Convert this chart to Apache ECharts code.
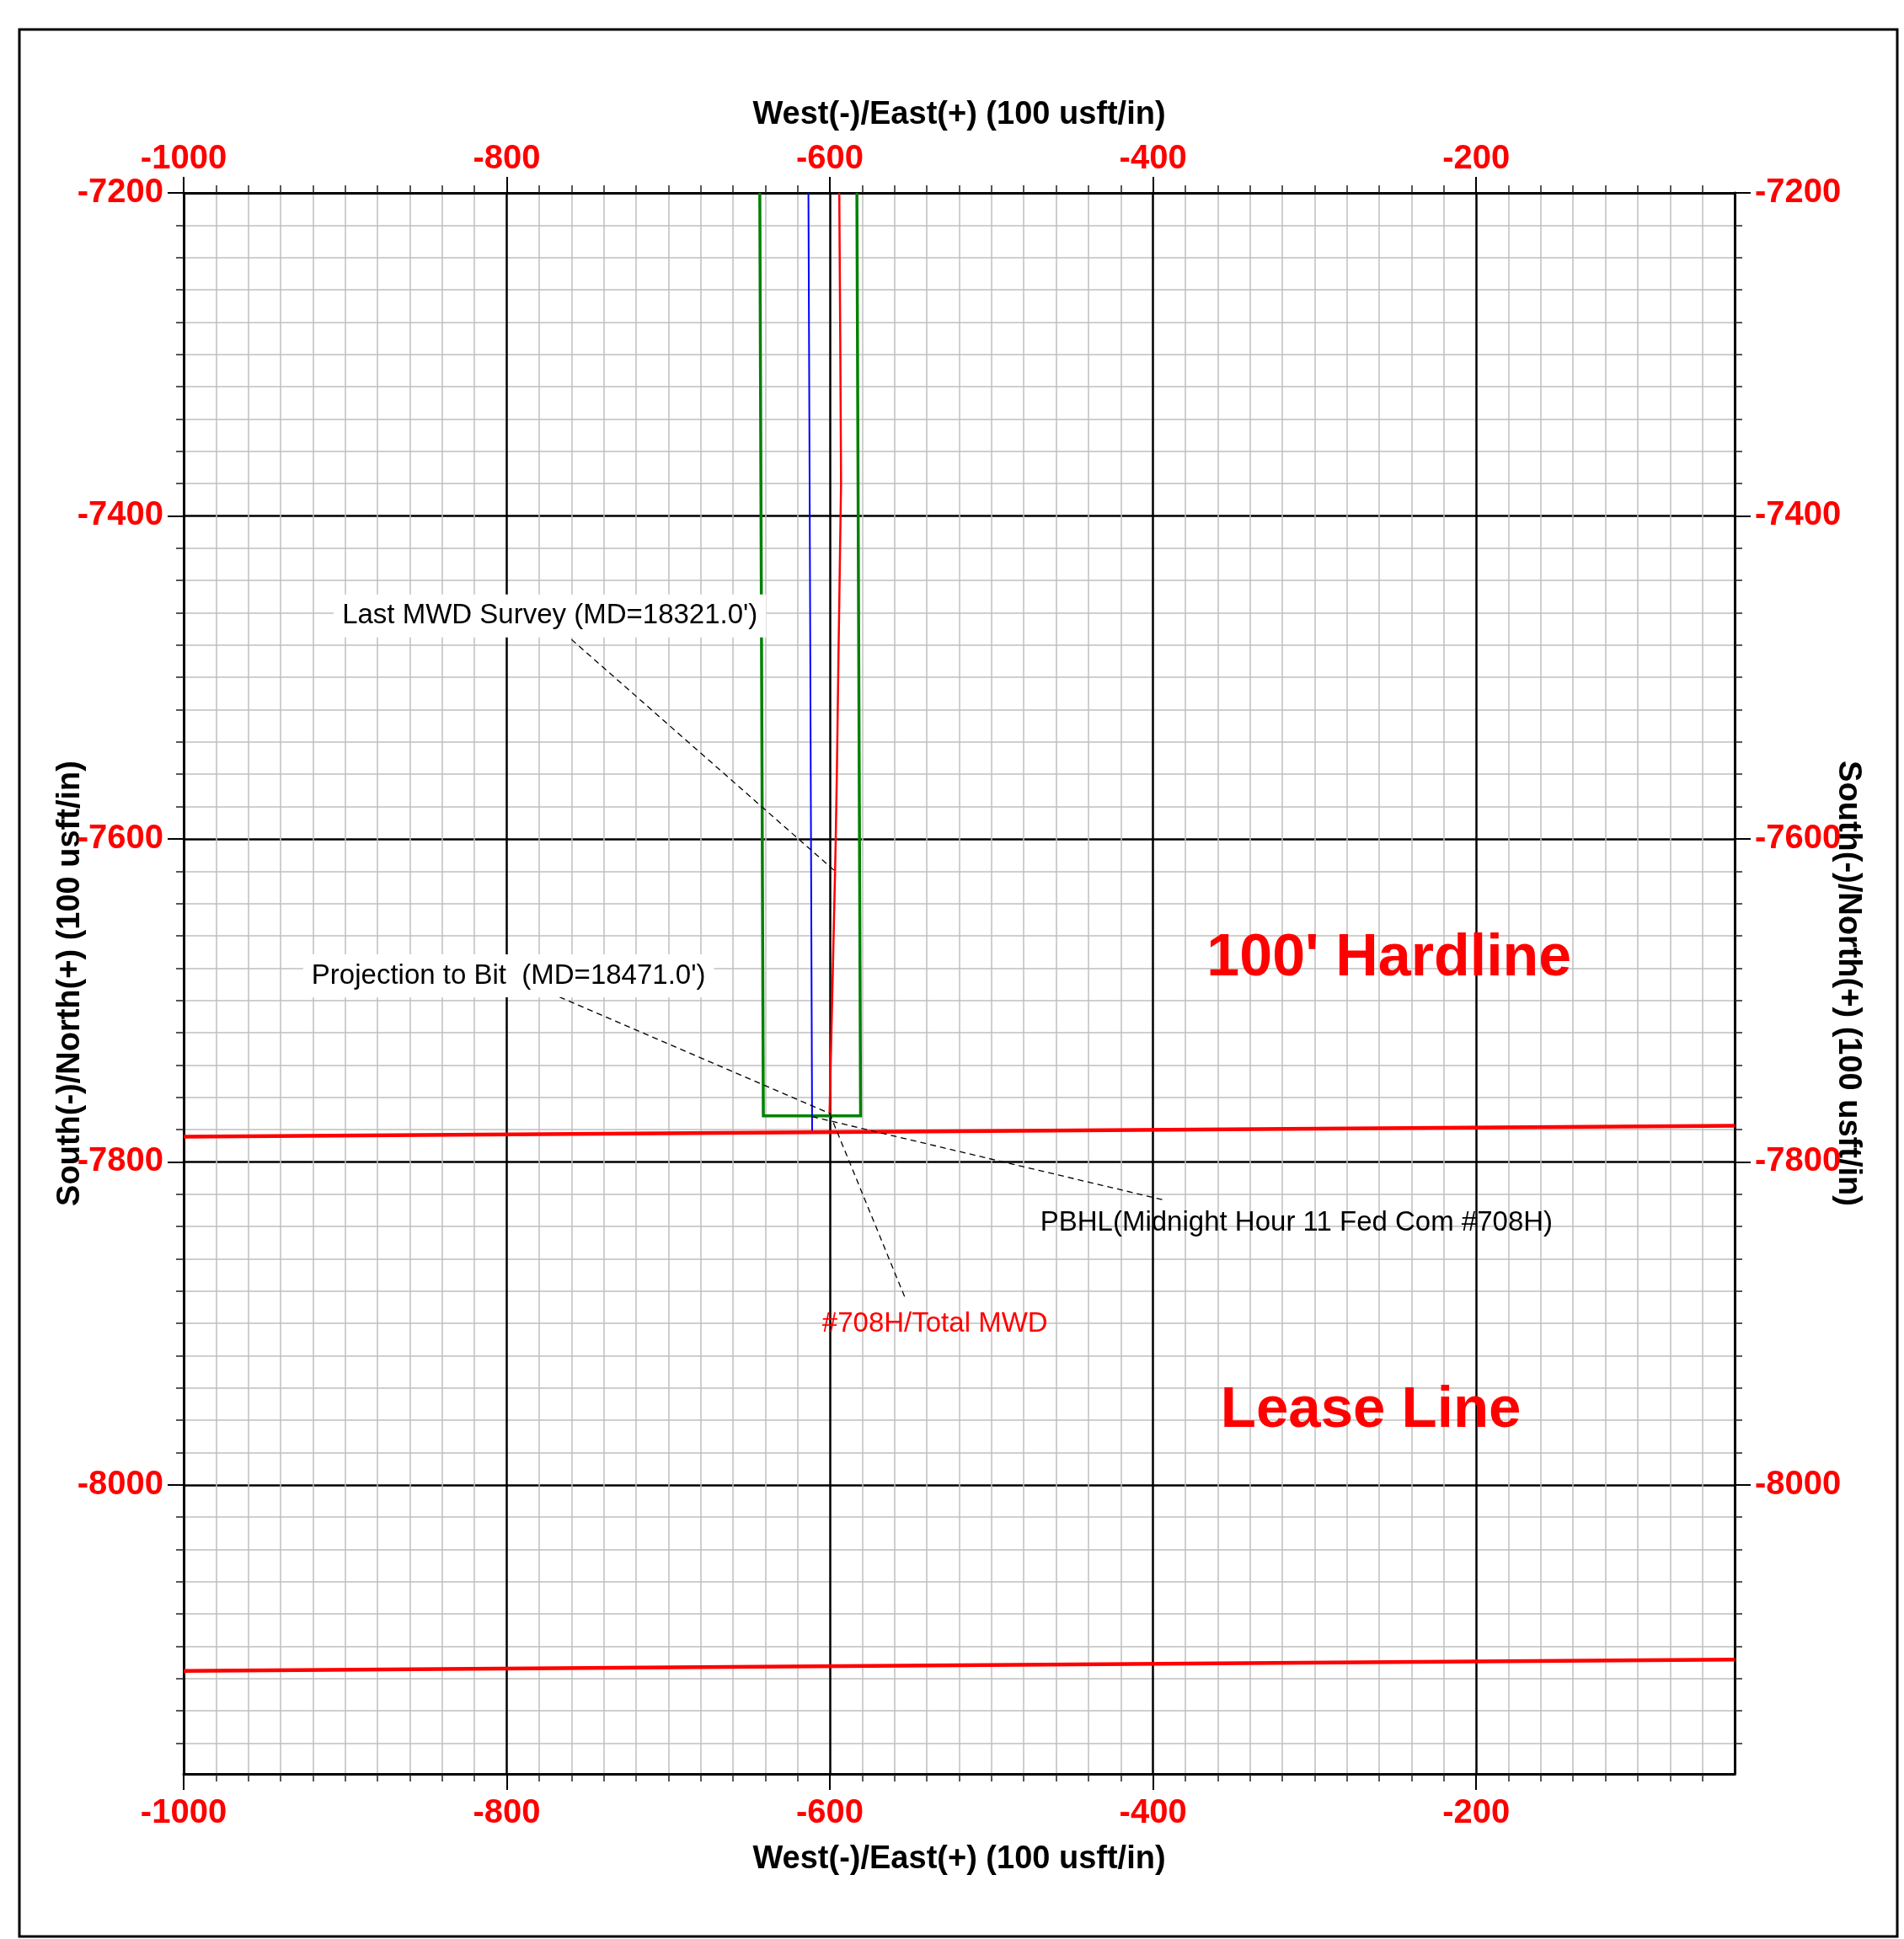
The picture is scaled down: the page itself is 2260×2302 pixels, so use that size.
<!DOCTYPE html>
<html>
<head>
<meta charset="utf-8">
<script src="https://cdn.jsdelivr.net/npm/echarts@6/dist/echarts.min.js"></script>
<style>
  html, body { margin: 0; padding: 0; background: #fff; }
  #chart { width: 2260px; height: 2302px; }
</style>
</head>
<body>
<div id="chart"></div>
<script>
// ---------------- data ----------------
const xRange = [-1000, -40];
const yRange = [-8179, -7200];
const xTickValues = [-1000, -800, -600, -400, -200];
const yTickValues = [-8000, -7800, -7600, -7400, -7200];
const xAxisTitle = 'West(-)/East(+) (100 usft/in)';
const yAxisTitle = 'South(-)/North(+) (100 usft/in)';

// planned wellbore (blue)
const planX = [-613.3, -612.5, -611.0];
const planY = [-7200, -7394, -7781];

// actual MWD survey path (red)
const mwdX = [-594.2, -593.6, -593.1, -594.6, -595.7, -596.4, -596.8];
const mwdY = [-7200, -7290, -7380, -7480, -7560, -7600, -7620];

// projection to bit (red)
const projX = [-596.8, -600.2];
const projY = [-7620, -7770];

// target / drilling window box (green)
const boxX = [-643.4, -641.2, -581.0, -583.3];
const boxY = [-7200, -7771.5, -7771.5, -7200];

// 100' hardline (red)
const hardX = [-1000, -40];
const hardY = [-7784.4, -7777.7];

// lease line (red)
const leaseX = [-1000, -40];
const leaseY = [-8115.2, -8108.2];

// dashed leader lines: start and end points
const leaderX0 = [-760.0, -767.4, -611.0, -600.2];
const leaderY0 = [-7476.5, -7697.9, -7772.0, -7770.0];
const leaderX1 = [-596.8, -600.2, -393.8, -553.0];
const leaderY1 = [-7620.0, -7770.0, -7823.5, -7885.4];

// annotation texts and their anchor points
const noteText = [
  "Last MWD Survey (MD=18321.0')",
  "Projection to Bit  (MD=18471.0')",
  'PBHL(Midnight Hour 11 Fed Com #708H)',
  '#708H/Total MWD',
  "100' Hardline",
  'Lease Line'
];
const noteX = [-773.3, -798.9, -311.2, -535.0, -253.9, -265.2];
const noteY = [-7461.9, -7684.8, -7838.1, -7900.3, -7674.6, -7954.3];

// ---------------- styles ----------------
const FONT = "'Liberation Sans', Arial, Helvetica, sans-serif";
const noteStyle = [
  { color: '#000', fontSize: 33, fontWeight: 'normal', backgroundColor: '#fff', padding: [9, 10] },
  { color: '#000', fontSize: 33, fontWeight: 'normal', backgroundColor: '#fff', padding: [9, 10] },
  { color: '#000', fontSize: 33, fontWeight: 'normal' },
  { color: '#ff0000', fontSize: 33, fontWeight: 'normal' },
  { color: '#ff0000', fontSize: 70, fontWeight: 'bold' },
  { color: '#ff0000', fontSize: 69, fontWeight: 'bold' }
];

function pts(xs, ys) { return xs.map((x, i) => [x, ys[i]]); }

function lineSeries(xs, ys, color, width, z, type) {
  return {
    type: 'line',
    data: pts(xs, ys),
    symbol: 'none',
    showSymbol: false,
    silent: true,
    animation: false,
    z: z,
    lineStyle: { color: color, width: width, type: type || 'solid', cap: 'butt', join: 'miter' }
  };
}

function makeAxis(kind, position, main) {
  const isX = kind === 'x';
  const range = isX ? xRange : yRange;
  const ticks = isX ? xTickValues : yTickValues;
  let gap;
  if (position === 'top') gap = 73;
  else if (position === 'bottom') gap = 83;
  else gap = 115;
  const ax = {
    type: 'value',
    position: position,
    min: range[0],
    max: range[1],
    name: isX ? xAxisTitle : yAxisTitle,
    nameLocation: 'middle',
    nameGap: gap,
    nameMoveOverlap: false,
    nameTextStyle: { fontFamily: FONT, fontSize: 38, fontWeight: 'bold', color: '#000' },
    axisLine: { show: true, onZero: false, lineStyle: { color: '#000', width: 3 } },
    axisTick: { show: true, length: 19, customValues: ticks, lineStyle: { color: '#000', width: 2 } },
    minorTick: { show: true, splitNumber: 10, length: 9, lineStyle: { color: '#222', width: 1.5 } },
    axisLabel: {
      show: true,
      margin: position === 'top' ? 20 : (position === 'bottom' ? 27 : 24),
      customValues: ticks,
      formatter: v => String(v),
      fontFamily: FONT, fontSize: 40, fontWeight: 'bold', color: '#ff0000'
    },
    splitLine: { show: main, lineStyle: { color: '#000', width: 2.5 } },
    minorSplitLine: { show: main, lineStyle: { color: '#c0c0c0', width: 1.5 } }
  };
  if (isX) ax.interval = 200; else ax.splitNumber = 5;
  if (!isX && position === 'right') ax.nameRotate = -90;
  return ax;
}

const series = [
  lineSeries(boxX, boxY, '#008000', 3.5, 3),
  lineSeries(planX, planY, '#0000ff', 2, 4),
  lineSeries(mwdX, mwdY, '#ff0000', 2.5, 5),
  lineSeries(projX, projY, '#ff0000', 2.5, 5),
  lineSeries(hardX, hardY, '#ff0000', 4.5, 6),
  lineSeries(leaseX, leaseY, '#ff0000', 4.5, 6)
];
leaderX0.forEach((x0, i) => {
  series.push(lineSeries([x0, leaderX1[i]], [leaderY0[i], leaderY1[i]], '#000', 1.3, 7, [7, 5]));
});
series.push({
  type: 'scatter',
  silent: true,
  animation: false,
  symbolSize: 0,
  z: 10,
  itemStyle: { color: 'transparent', opacity: 1 },
  data: noteText.map((t, i) => ({
    value: [noteX[i], noteY[i]],
    itemStyle: { opacity: 1 },
    label: Object.assign({
      show: true,
      position: 'inside',
      align: 'center',
      verticalAlign: 'middle',
      fontFamily: FONT,
      opacity: 1,
      textBorderWidth: 0,
      textBorderColor: 'transparent',
      textShadowBlur: 0,
      formatter: () => t
    }, noteStyle[i])
  }))
});

const chart = echarts.init(document.getElementById('chart'), null, { renderer: 'canvas', width: 2260, height: 2302 });
chart.setOption({
  animation: false,
  backgroundColor: '#fff',
  grid: { left: 218, top: 229, width: 1841, height: 1877, containLabel: false, outerBoundsMode: 'none' },
  xAxis: [makeAxis('x', 'bottom', true), makeAxis('x', 'top', false)],
  yAxis: [makeAxis('y', 'left', true), makeAxis('y', 'right', false)],
  graphic: [{
    type: 'rect',
    silent: true,
    z: 100,
    shape: { x: 23, y: 35, width: 2229, height: 2264 },
    style: { fill: 'none', stroke: '#000', lineWidth: 3 }
  }],
  series: series
});
</script>
</body>
</html>
